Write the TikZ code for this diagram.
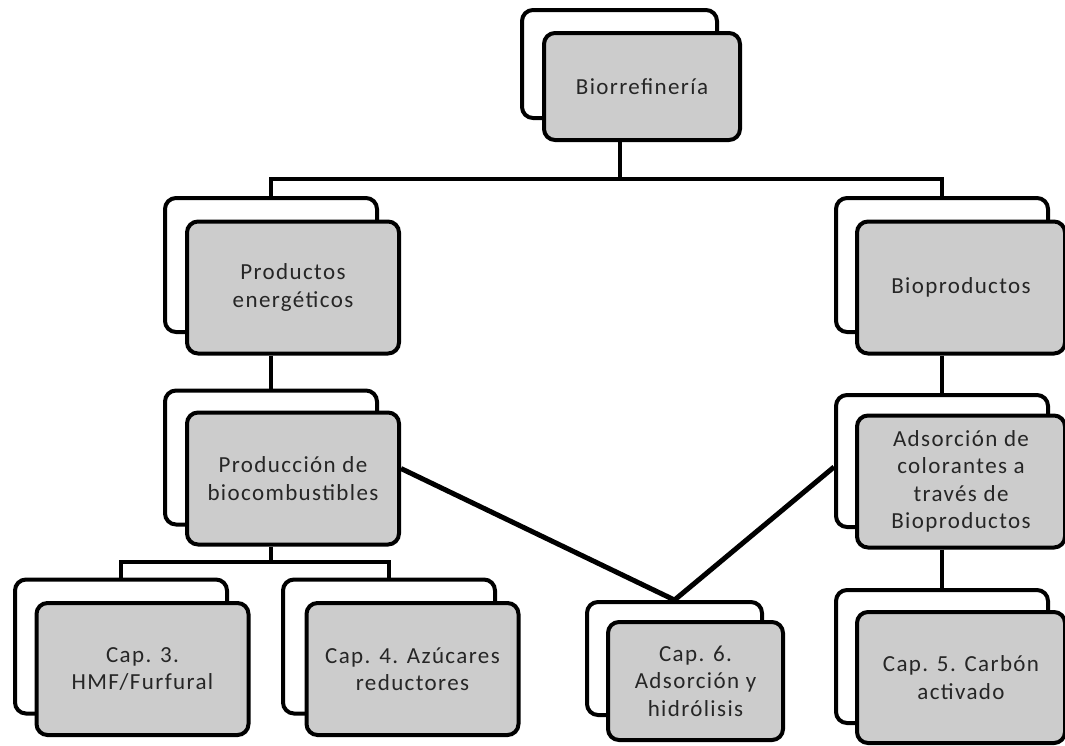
\documentclass[tikz,border=0pt]{standalone}
\usepackage{fontspec}
\setmainfont{Carlito}
\newfontfamily\boxfont[LetterSpace=6]{Carlito}

\begin{document}
\begin{tikzpicture}[x=1pt, y=-1pt,
  back/.style={draw, line width=4pt, rounded corners=11pt, fill=white,
    minimum width=212pt, minimum height=134pt, inner sep=0pt},
  front/.style={draw, line width=4pt, rounded corners=11pt, fill=gray!40,
    text=black!85, align=center, font=\boxfont\fontsize{23}{27.5}\selectfont,
    minimum width=212pt, minimum height=132pt, inner sep=0pt},
  link/.style={line width=4pt}]
\useasboundingbox (0,0) rectangle (1065,745);

% boxes
\node [back, minimum width=195pt, minimum height=108pt] (bior-b) at (619.5,64) {};
\node [front, minimum width=196pt, minimum height=107pt] (bior) at (642,86.5) {Biorrefinería};

\node [back] (ener-b) at (271,265) {};
\node [front] (ener) at (293,287.5) {Productos\\energéticos};
\node [back] (biop-b) at (942,265) {};
\node [front, minimum width=208pt] (biop) at (961,287.5) {Bioproductos};

\node [back] (bioc-b) at (271,457.5) {};
\node [front] (bioc) at (293,478.5) {Producción de\\biocombustibles};
\node [back, minimum height=132pt] (adso-b) at (942,461) {};
\node [front, minimum width=208pt] (adso) at (961,481.5) {Adsorción de\\colorantes a\\través de\\Bioproductos};

\node [back] (cap3-b) at (121,646.5) {};
\node [front] (cap3) at (142.5,669) {Cap. 3.\\HMF/Furfural};
\node [back] (cap4-b) at (389,646.5) {};
\node [front] (cap4) at (412.5,669) {Cap. 4. Azúcares\\reductores};
\node [back, minimum width=175pt, minimum height=113pt] (cap6-b) at (674.5,658.5) {};
\node [front, minimum width=175pt, minimum height=118pt] (cap6) at (695.5,681) {Cap. 6.\\Adsorción y\\hidrólisis};
\node [back, minimum height=133pt] (cap5-b) at (942,656.5) {};
\node [front, minimum width=208pt, minimum height=131pt] (cap5) at (961,677.5) {Cap. 5. Carbón\\activado};

% connectors
\coordinate (bus1) at (619.5,179);
\coordinate (bus2) at (271,562);
\draw [link] (bior-b |- bior.south) -- (bus1);
\draw [link] (ener-b.north) |- (bus1) -| (biop-b.north);
\draw [link] (ener-b |- ener.south) -- (bioc-b.north);
\draw [link] (biop-b |- biop.south) -- (adso-b.north);
\draw [link] (bioc-b |- bioc.south) -- (bus2);
\draw [link] (cap3-b.north) |- (bus2) -| (cap4-b.north);
\draw [link] (adso-b |- adso.south) -- (cap5-b.north);
\draw [link, line width=5pt] ([yshift=10pt]bioc.east) -- (cap6-b.north) -- ([yshift=-6pt]adso-b.west);
\end{tikzpicture}
\end{document}
